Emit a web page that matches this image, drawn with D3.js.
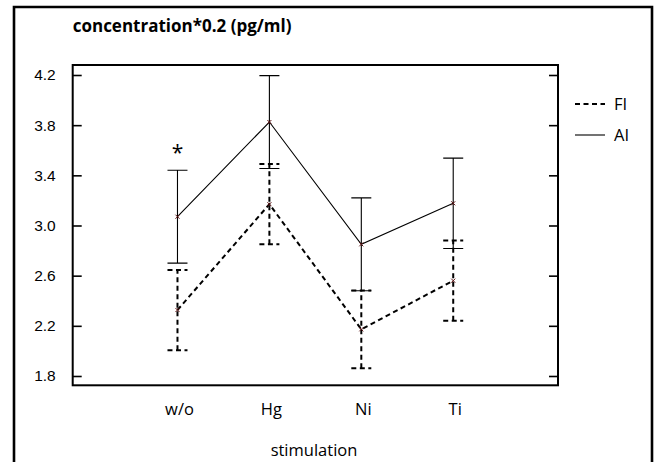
<!DOCTYPE html>
<html>
<head>
<meta charset="utf-8">
<script src="https://cdn.jsdelivr.net/npm/d3@7"></script>
<style>
  body { margin: 0; background: #fff; }
  svg { font-family: "Open Sans", sans-serif; }
</style>
</head>
<body>
<div id="chart"></div>
<script>
// chart data
const categories = ["w/o", "Hg", "Ni", "Ti"];
const aiMean = [3.07, 3.825, 2.85, 3.177];
const aiErr = [0.37, 0.37, 0.37, 0.36];
const fiMean = [2.326, 3.17, 2.172, 2.56];
const fiErr = [0.32, 0.32, 0.31, 0.32];
const yTicks = [1.8, 2.2, 2.6, 3.0, 3.4, 3.8, 4.2];

const width = 655, height = 462;
const plot = { left: 72.7, right: 558, top: 65, bottom: 385.3 };

const svg = d3.select("#chart").append("svg")
  .attr("width", width).attr("height", height);

// outer frame (bottom runs off the page)
svg.append("path")
  .attr("d", `M14,${height + 5}V7H652V${height + 5}`)
  .attr("fill", "none").attr("stroke", "#000").attr("stroke-width", 2.6);

const x = d3.scalePoint().domain(categories).range([plot.left, plot.right]).padding(1.14);
const y = d3.scaleLinear().domain([1.7258, 4.2797]).range([plot.bottom, plot.top]);

// plot box
svg.append("rect")
  .attr("x", plot.left).attr("y", plot.top)
  .attr("width", plot.right - plot.left).attr("height", plot.bottom - plot.top)
  .attr("fill", "none").attr("stroke", "#000").attr("stroke-width", 2);

const leftAxis = svg.append("g")
  .attr("transform", `translate(${plot.left},0)`)
  .call(d3.axisLeft(y).tickValues(yTicks).tickFormat(d3.format(".1f")).tickSize(-9).tickPadding(17));
leftAxis.select(".domain").remove();
leftAxis.selectAll("line").attr("stroke-width", 1.6);
leftAxis.selectAll("text").attr("font-size", 15.5).attr("fill", "#000");

const rightAxis = svg.append("g")
  .attr("transform", `translate(${plot.right},0)`)
  .call(d3.axisRight(y).tickValues(yTicks).tickSize(-9).tickFormat(""));
rightAxis.select(".domain").remove();
rightAxis.selectAll("line").attr("stroke-width", 1.6);

// category labels, no tick marks
svg.append("g").selectAll("text").data(categories).join("text")
  .attr("x", (d) => x(d) + 2).attr("y", 415)
  .attr("text-anchor", "middle").attr("font-size", 16.5)
  .text((d) => d);

svg.append("text")
  .attr("x", 314).attr("y", 456)
  .attr("text-anchor", "middle").attr("font-size", 16.5)
  .text("stimulation");

svg.append("text")
  .attr("x", plot.left).attr("y", 32)
  .attr("font-size", 17).attr("font-weight", "bold")
  .text("concentration*0.2 (pg/ml)");

// series
const series = [
  { name: "FI", mean: fiMean, err: fiErr, dash: "5,3.5", sw: 2 },
  { name: "AI", mean: aiMean, err: aiErr, dash: null, sw: 1.1 }
];
const capHalf = 10;
const line = d3.line().x((d) => x(d.cat)).y((d) => y(d.v));

series.forEach((s) => {
  const pts = categories.map((c, i) => ({ cat: c, v: s.mean[i], e: s.err[i] }));
  const g = svg.append("g")
    .attr("fill", "none").attr("stroke", "#000")
    .attr("stroke-width", s.sw).attr("stroke-dasharray", s.dash);

  g.append("path").attr("d", line(pts));

  g.selectAll("path.err").data(pts).join("path")
    .attr("class", "err")
    .attr("d", (d) => {
      const cx = x(d.cat), y0 = y(d.v - d.e), y1 = y(d.v + d.e);
      return `M${cx},${y0}V${y1}M${cx - capHalf},${y1}H${cx + capHalf}M${cx - capHalf},${y0}H${cx + capHalf}`;
    });

  // small x markers at the means
  svg.append("g").selectAll("path").data(pts).join("path")
    .attr("d", (d) => {
      const cx = x(d.cat), cy = y(d.v);
      return `M${cx - 2},${cy - 2}L${cx + 2},${cy + 2}M${cx - 2},${cy + 2}L${cx + 2},${cy - 2}`;
    })
    .attr("stroke", "#5a1010").attr("stroke-width", 1);
});

// significance mark
svg.append("text")
  .attr("x", x("w/o")).attr("y", 160)
  .attr("text-anchor", "middle").attr("font-size", 21)
  .text("*");

// legend
const legend = svg.append("g");
series.forEach((s, i) => {
  const ly = 104 + i * 31;
  legend.append("line")
    .attr("x1", 575).attr("x2", 605).attr("y1", ly).attr("y2", ly)
    .attr("stroke", "#000").attr("stroke-width", s.sw)
    .attr("stroke-dasharray", s.dash);
  legend.append("text")
    .attr("x", 614).attr("y", ly + 6)
    .attr("font-size", 16.5).text(s.name);
});
</script>
</body>
</html>
